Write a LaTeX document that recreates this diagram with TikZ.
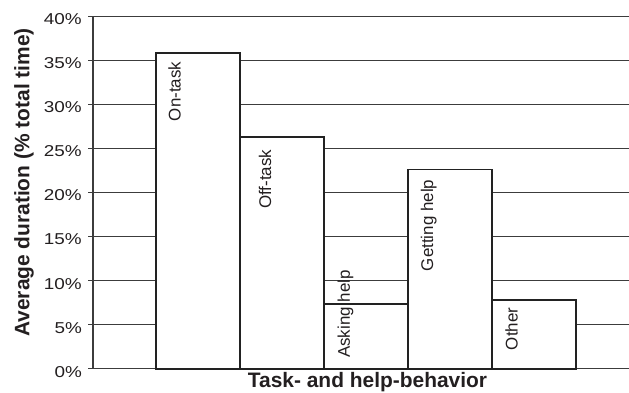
\documentclass[tikz,border=0pt]{standalone}
\usepackage{fontspec}
\setmainfont{Liberation Sans}
\definecolor{ink}{RGB}{35,31,32}
\definecolor{gridc}{RGB}{60,60,60}
\definecolor{barc}{RGB}{34,34,34}
\begin{document}
\begin{tikzpicture}[x=1bp,y=-1bp,
  gridline/.style={draw=gridc,line width=1.1bp},
  axisline/.style={draw=gridc,line width=1.5bp},
  barbox/.style={draw=barc,fill=white,line width=1.7bp},
  ticklab/.style={anchor=east,inner sep=0pt,text=ink,font=\fontsize{15.8}{18}\selectfont},
  barlab/.style={rotate=90,inner sep=0pt,text=ink,font=\fontsize{17}{20}\selectfont},
  axlab/.style={inner sep=0pt,text=ink,font=\bfseries\fontsize{21}{24}\selectfont}]
\useasboundingbox (0,0) rectangle (629,392);
% grid lines and ticks
\foreach \k/\lab in {0/0,1/5,2/10,3/15,4/20,5/25,6/30,7/35,8/40}{
  \draw[gridline] (88,{368.7-\k*44.06}) -- (629,{368.7-\k*44.06});
  \node[ticklab] (t\k) at (82,{371.7-\k*44.06}) {\scalebox{1.2}[1]{\lab\%}};
}
\draw[axisline] (93,16.2) -- (93,368.7);
% bars
\draw[barbox] (156,368.7) rectangle (240,52.7);
\draw[barbox] (240,368.7) rectangle (324,137);
\draw[barbox] (324,368.7) rectangle (408,304);
\draw[barbox] (408,368.7) rectangle (492,169.5);
\draw[barbox] (492,368.7) rectangle (576,300.3);
% bar labels
\node[barlab,anchor=base east] (on) at (180.7,61.5) {On-task};
\node[barlab,anchor=base east] (off) at (271,149.5) {Off-task};
\node[barlab,anchor=base west] (ask) at (349.8,358) {Asking help};
\node[barlab,anchor=base east] (get) at (433.2,179.5) {Getting help};
\node[barlab,anchor=base east] (oth) at (517.5,307.5) {Other};
% axis labels
\node[axlab,rotate=90] (ylab) at (24,182.5) {Average duration (\% total time)};
\node[axlab,anchor=base] (xlab) at (367.5,387.6) {Task- and help-behavior};
\end{tikzpicture}
\end{document}
